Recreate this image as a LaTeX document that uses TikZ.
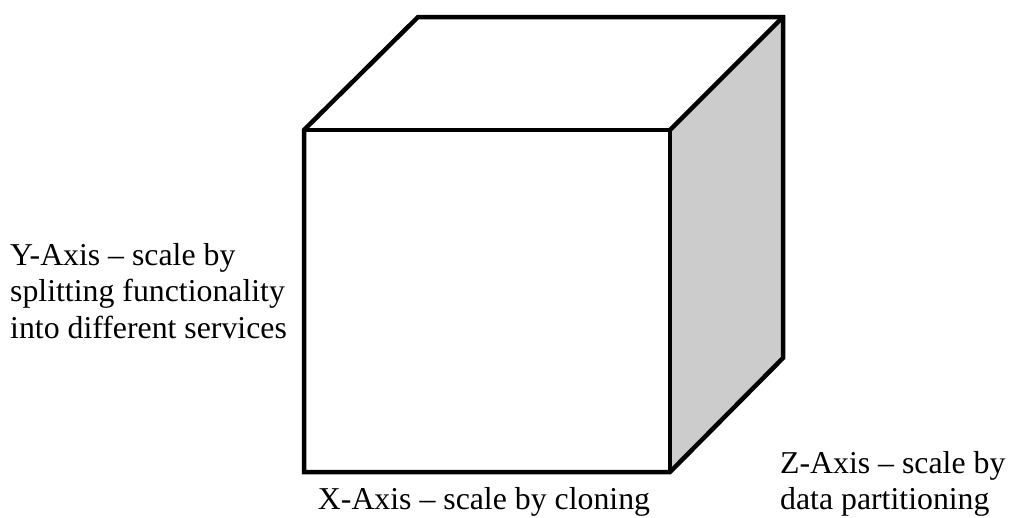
\documentclass[tikz,border=0pt]{standalone}
\usepackage{fontspec}
\setmainfont{Liberation Serif}
\usetikzlibrary{positioning}

\begin{document}
\begin{tikzpicture}[
  x=1pt, y=-1pt,
  edge/.style={line width=4.5pt, line join=miter},
  side/.style={fill=black!20},
  lbl/.style={inner sep=0pt, font=\fontsize{31.8}{36.5}\selectfont, align=left}
]
\useasboundingbox (0,0) rectangle (1009,517);
% cube corners
\coordinate (ftl) at (304,130);
\coordinate (ftr) at (670,130);
\coordinate (fbr) at (670,472);
\coordinate (fbl) at (304,472);
\coordinate (btl) at (418,17);
\coordinate (btr) at (783,17);
\coordinate (bbr) at (783,358);

% faces
\fill[side] (ftr) -- (btr) -- (bbr) -- (fbr) -- cycle;
\draw[edge] (ftl) -- (btl) -- (btr) -- (bbr) -- (fbr) -- (fbl) -- cycle;
\draw[edge] (ftl) -- (ftr) -- (fbr);
\draw[edge] (ftr) -- (btr);

% axis labels
\node[lbl, anchor=north west] (yaxis) at (10,243)
  {Y-Axis -- scale by\\splitting functionality\\into different services};
\node[lbl, anchor=base] (xaxis) at (484,509) {X-Axis -- scale by cloning};
\node[lbl, anchor=north west] (zaxis) at (780,451)
  {Z-Axis -- scale by\\data partitioning};
\end{tikzpicture}
\end{document}
